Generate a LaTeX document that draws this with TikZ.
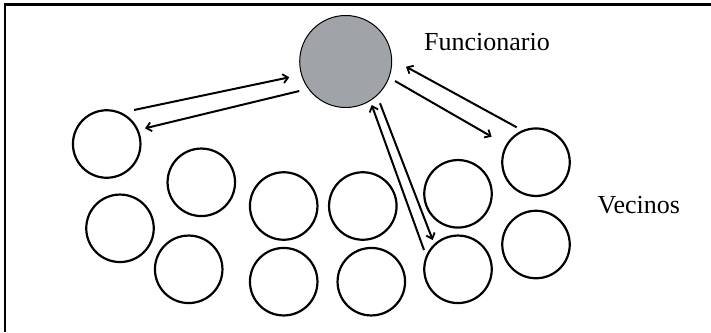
\documentclass[tikz,border=0pt]{standalone}
\usepackage{fontspec}
\setmainfont{Liberation Serif}
\usetikzlibrary{arrows.meta}
\definecolor{funcgray}{HTML}{A0A4A9}
\tikzset{
  vecino/.style={circle,draw=black,line width=2.2pt,minimum size=67.5pt,inner sep=0pt,fill=white},
  funcionario/.style={circle,draw=black,line width=1pt,minimum size=92pt,inner sep=0pt,fill=funcgray},
  flecha/.style={line width=2pt,-{Straight Barb[length=5pt,width=9pt,line width=1.8pt]}},
  etiqueta/.style={inner sep=0pt,anchor=base west,font=\fontsize{26}{30}\selectfont}
}
\begin{document}
\begin{tikzpicture}[x=1pt,y=-1pt]
\useasboundingbox (0,0) rectangle (711,332);
% frame (top and left edges)
\draw[line width=2.4pt] (4.7,332) -- (4.7,4.5) -- (711,4.5);
% official
\node[funcionario] (F) at (345.7,61.5) {};
% neighbours
\node[vecino] (C1) at (106.7,144) {};
\node[vecino] (C2) at (201.3,182.3) {};
\node[vecino] (C3) at (120,228.3) {};
\node[vecino] (C4) at (188.7,269.3) {};
\node[vecino] (C5) at (283.7,206) {};
\node[vecino] (C6) at (362.8,206) {};
\node[vecino] (C7) at (283.7,281.7) {};
\node[vecino] (C8) at (371.3,281.7) {};
\node[vecino] (C9) at (458,193.8) {};
\node[vecino] (C10) at (458,269.3) {};
\node[vecino] (C11) at (536,162.2) {};
\node[vecino] (C12) at (536,244.5) {};
% labels
\node[etiqueta] (tF) at (424,50.7) {Funcionario};
\node[etiqueta] (tV) at (597.5,213.3) {Vecinos};
% arrow ends
\coordinate (a1s) at (134,110);   \coordinate (a1e) at (289.3,77.3);
\coordinate (a2s) at (299.3,91);  \coordinate (a2e) at (145,128.3);
\coordinate (b1s) at (516.7,127.3); \coordinate (b1e) at (406,66.7);
\coordinate (b2s) at (395,81);    \coordinate (b2e) at (491.7,136.7);
\coordinate (c1s) at (424,250);   \coordinate (c1e) at (371.7,105);
\coordinate (c2s) at (380,103.3); \coordinate (c2e) at (432.7,240);
\draw[flecha] (a1s) -- (a1e);
\draw[flecha] (a2s) -- (a2e);
\draw[flecha] (b1s) -- (b1e);
\draw[flecha] (b2s) -- (b2e);
\draw[flecha] (c1s) -- (c1e);
\draw[flecha] (c2s) -- (c2e);
\end{tikzpicture}
\end{document}
